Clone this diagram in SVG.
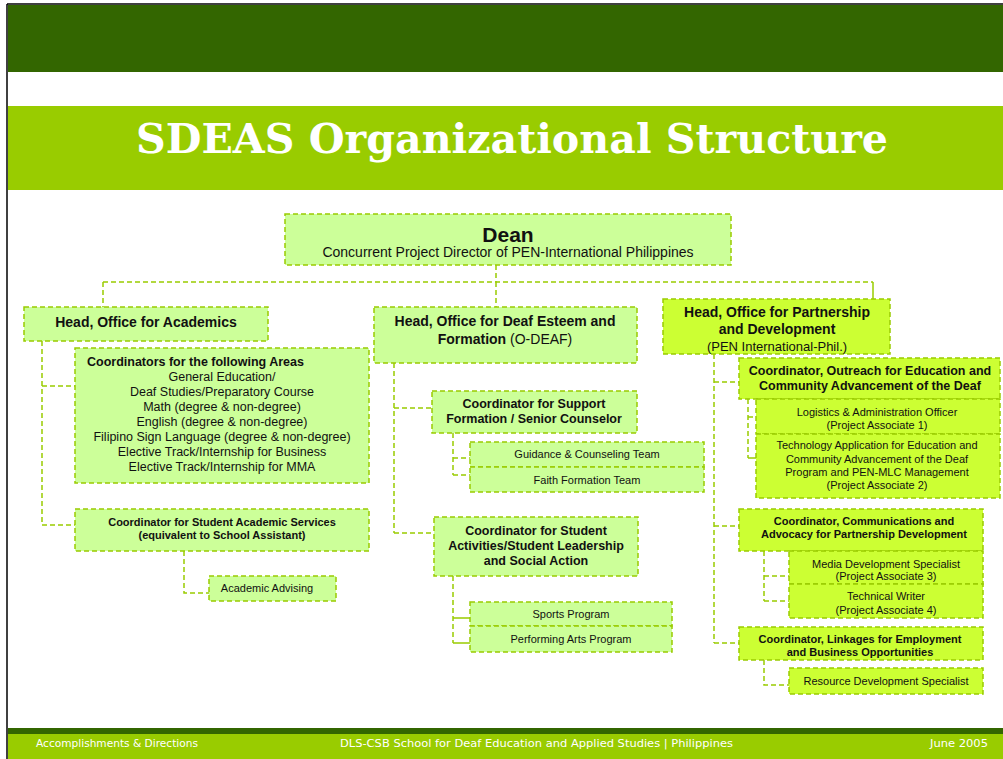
<svg xmlns="http://www.w3.org/2000/svg" width="1003" height="759" viewBox="0 0 1003 759">
<style>
.bx{fill:#ccff99;stroke:#99cc00;stroke-width:1.5;stroke-dasharray:5 3}
.by{fill:#ccff33;stroke:#99cc00;stroke-width:1.5;stroke-dasharray:5 3}
.c{fill:none;stroke:#99cc00;stroke-width:1.5;stroke-dasharray:5 3}
.s{fill:none;stroke:#99cc00;stroke-width:1.5}
text{font-family:"Liberation Sans",Arial,sans-serif;fill:#111;text-anchor:middle}
.b{font-weight:bold}
.h{font-size:14px;font-weight:bold}
.m{font-size:12.5px}
.sm{font-size:11px}
.ft{font-family:"DejaVu Sans","Liberation Sans",sans-serif;font-size:10px;fill:#ffffff;text-anchor:start}
</style>
<rect x="0" y="0" width="1003" height="759" fill="#ffffff"/>
<g id="frame">
<rect x="8" y="5" width="995" height="67" fill="#336600"/>
<rect x="8" y="106" width="995" height="84" fill="#99cc00"/>
<rect x="8" y="728" width="995" height="6" fill="#336600"/>
<rect x="8" y="734" width="995" height="25" fill="#99cc00"/>
<line x1="7" y1="4" x2="1003" y2="4" stroke="#000" stroke-width="1.5"/>
<line x1="7" y1="4" x2="7" y2="759" stroke="#000" stroke-width="1.5"/>
<text x="136" y="153" style="font-family:'DejaVu Serif','Liberation Serif',serif;font-size:41px;font-weight:bold;fill:#fff;text-anchor:start" textLength="752" lengthAdjust="spacingAndGlyphs">SDEAS Organizational Structure</text>
<text class="ft" x="36" y="747" textLength="162" lengthAdjust="spacingAndGlyphs">Accomplishments &amp; Directions</text>
<text class="ft" x="340" y="747" textLength="393" lengthAdjust="spacingAndGlyphs">DLS-CSB School for Deaf Education and Applied Studies | Philippines</text>
<text class="ft" x="930" y="747" textLength="58" lengthAdjust="spacingAndGlyphs">June 2005</text>
</g>
<g id="connectors">
<path class="c" d="M496 265V282M103 282H873M103 282V307M496 282V307"/>
<path class="s" d="M873 282V299"/>
<path class="c" d="M42 341V525M42 386H75M42 525H75M184 551V593H209"/>
<path class="c" d="M394 363V533M394 408H432M394 533H434M453 433V475M453 458H470M453 475H470M453 576V643"/>
<path class="s" d="M453 618H470M453 643H470"/>
<path class="c" d="M714 354V643M714 382H739M714 526H739M714 643H739M748 399V458M748 417H756M764 551V601M764 576H789M764 601H789M764 660V685H789"/>
<path class="s" d="M748 458H756"/>
</g>
<g id="dean">
<rect class="bx" x="285" y="214" width="446" height="51"/>
<text x="508" y="242" class="b" style="font-size:21px">Dean</text>
<text x="508" y="257" style="font-size:14px">Concurrent Project Director of PEN-International Philippines</text>
</g>
<g id="head-academics">
<rect class="bx" x="24" y="307" width="244" height="34"/>
<text x="146" y="327" class="h">Head, Office for Academics</text>
</g>
<g id="coordinators-areas">
<rect class="bx" x="75" y="348" width="294" height="135"/>
<text x="87" y="366" class="m b" style="text-anchor:start">Coordinators for the following Areas</text>
<text class="m" x="222" y="381">General Education/</text>
<text class="m" x="222" y="396">Deaf Studies/Preparatory Course</text>
<text class="m" x="222" y="411">Math (degree &amp; non-degree)</text>
<text class="m" x="222" y="426">English (degree &amp; non-degree)</text>
<text class="m" x="222" y="441">Filipino Sign Language (degree &amp; non-degree)</text>
<text class="m" x="222" y="456">Elective Track/Internship for Business</text>
<text class="m" x="222" y="471">Elective Track/Internship for MMA</text>
</g>
<g id="coord-student-academic">
<rect class="bx" x="75" y="509" width="294" height="42"/>
<text class="sm b" x="222" y="526">Coordinator for Student Academic Services</text>
<text class="sm b" x="222" y="539">(equivalent to School Assistant)</text>
</g>
<g id="academic-advising">
<rect class="bx" x="209" y="576" width="127" height="25"/>
<text class="sm" x="267" y="592">Academic Advising</text>
</g>
<g id="head-odeaf">
<rect class="bx" x="374" y="307" width="263" height="56"/>
<text class="h" x="505" y="326">Head, Office for Deaf Esteem and</text>
<text x="505" y="344" style="font-size:14px"><tspan font-weight="bold">Formation</tspan> (O-DEAF)</text>
</g>
<g id="coord-support">
<rect class="bx" x="432" y="391" width="205" height="42"/>
<text class="m b" x="534" y="408">Coordinator for Support</text>
<text class="m b" x="534" y="423">Formation / Senior Counselor</text>
</g>
<g id="guidance">
<rect class="bx" x="470" y="442" width="234" height="25"/>
<text class="sm" x="587" y="458">Guidance &amp; Counseling Team</text>
</g>
<g id="faith">
<rect class="bx" x="470" y="467" width="234" height="25"/>
<text class="sm" x="587" y="484">Faith Formation Team</text>
</g>
<g id="coord-activities">
<rect class="bx" x="434" y="517" width="204" height="59"/>
<text class="m b" x="536" y="535">Coordinator for Student</text>
<text class="m b" x="536" y="550">Activities/Student Leadership</text>
<text class="m b" x="536" y="565">and Social Action</text>
</g>
<g id="sports">
<rect class="bx" x="470" y="602" width="202" height="24"/>
<text class="sm" x="571" y="618">Sports Program</text>
</g>
<g id="performing">
<rect class="bx" x="470" y="626" width="202" height="26"/>
<text class="sm" x="571" y="643">Performing Arts Program</text>
</g>
<g id="head-partnership">
<rect class="by" x="663" y="299" width="227" height="55"/>
<text class="h" x="777" y="317">Head, Office for Partnership</text>
<text class="h" x="777" y="334">and Development</text>
<text x="777" y="351" style="font-size:13px">(PEN International-Phil.)</text>
</g>
<g id="coord-outreach">
<rect class="by" x="739" y="358" width="261" height="41"/>
<text class="m b" x="870" y="375">Coordinator, Outreach for Education and</text>
<text class="m b" x="870" y="390">Community Advancement of the Deaf</text>
</g>
<g id="logistics">
<rect class="by" x="756" y="399" width="244" height="35"/>
<text class="sm" x="877" y="416">Logistics &amp; Administration Officer</text>
<text class="sm" x="877" y="429">(Project Associate 1)</text>
</g>
<g id="technology">
<rect class="by" x="756" y="434" width="244" height="64"/>
<text class="sm" x="877" y="449">Technology Application for Education and</text>
<text class="sm" x="877" y="463">Community Advancement of the Deaf</text>
<text class="sm" x="877" y="476">Program and PEN-MLC Management</text>
<text class="sm" x="877" y="489">(Project Associate 2)</text>
</g>
<g id="coord-communications">
<rect class="by" x="739" y="509" width="244" height="42"/>
<text class="sm b" x="864" y="525">Coordinator, Communications and</text>
<text class="sm b" x="864" y="538">Advocacy for Partnership Development</text>
</g>
<g id="media">
<rect class="by" x="789" y="551" width="194" height="33"/>
<text class="sm" x="886" y="568">Media Development Specialist</text>
<text class="sm" x="886" y="580">(Project Associate 3)</text>
</g>
<g id="technical-writer">
<rect class="by" x="789" y="584" width="194" height="34"/>
<text class="sm" x="886" y="600">Technical Writer</text>
<text class="sm" x="886" y="614">(Project Associate 4)</text>
</g>
<g id="coord-linkages">
<rect class="by" x="739" y="627" width="244" height="33"/>
<text class="sm b" x="860" y="643">Coordinator, Linkages for Employment</text>
<text class="sm b" x="860" y="656">and Business Opportunities</text>
</g>
<g id="resource">
<rect class="by" x="789" y="668" width="194" height="26"/>
<text class="sm" x="886" y="685">Resource Development Specialist</text>
</g>
</svg>
